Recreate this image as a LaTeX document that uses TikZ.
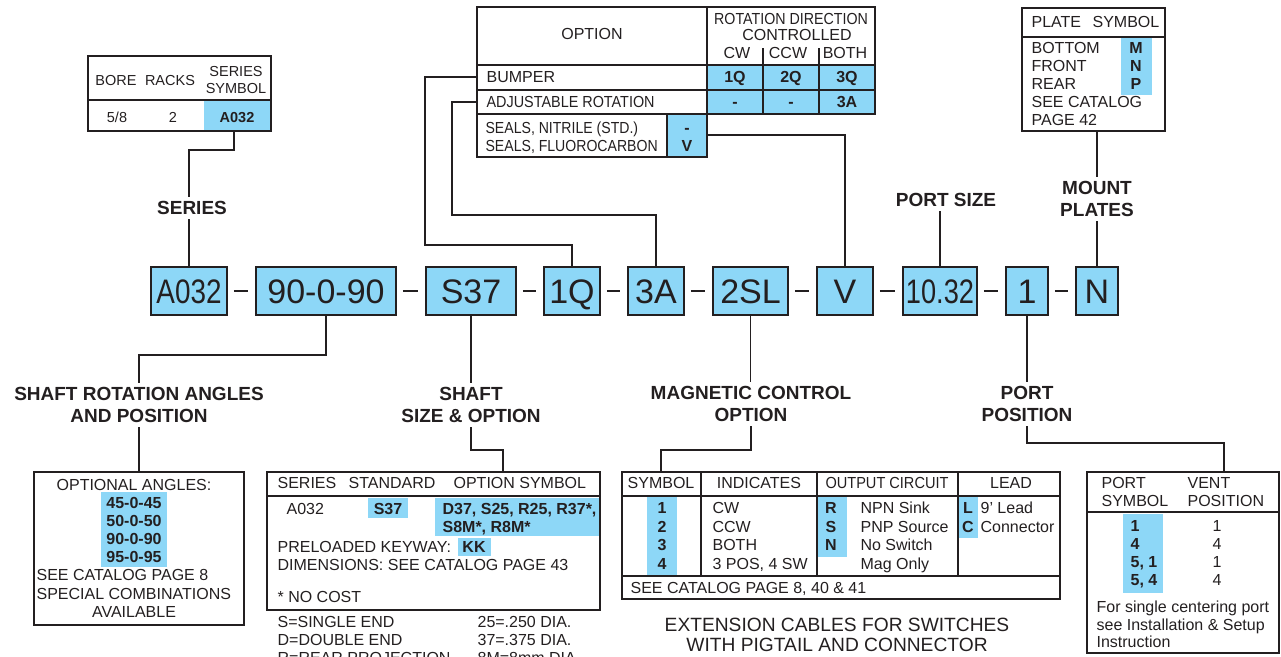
\documentclass[tikz,border=0pt]{standalone}
\usepackage{fontspec}
\usepackage{graphicx}
\setmainfont{Liberation Sans}
\usetikzlibrary{calc}
\definecolor{lc}{RGB}{35,31,32}
\definecolor{cb}{RGB}{141,215,247}
\newcommand{\fnTop}{\fontsize{14.5}{18}\selectfont}
\newcommand{\fnTab}{\fontsize{16}{18}\selectfont}
\newcommand{\fnLbl}{\fontsize{19}{22}\selectfont\bfseries}
\newcommand{\fnBig}{\fontsize{34}{34}\selectfont}
\newcommand{\fnExt}{\fontsize{19.2}{20}\selectfont}
\newcommand{\cnd}[2]{\scalebox{#1}[1]{#2}}
\begin{document}
\begin{tikzpicture}[x=1pt,y=-1pt,color=lc,line width=1.2pt,
  mb/.style={draw=lc,fill=cb,line width=1.5pt,minimum height=48pt,inner sep=0pt,font=\fnBig,text height=24.4pt,text depth=0pt},
  frm/.style={draw=lc,line width=1.3pt,inner sep=0pt,outer sep=0pt},
  lbl/.style={font=\fnLbl,align=center,inner xsep=2pt,inner ysep=4.5pt,outer sep=0pt},
  ta/.style={font=\fnTop,inner sep=0pt,text height=10.4pt,text depth=0pt},
  tab/.style={font=\fnTop\bfseries,inner sep=0pt,text height=10.4pt,text depth=0pt},
  tb/.style={font=\fnTab,inner sep=0pt,text height=11.5pt,text depth=0pt},
  tbb/.style={font=\fnTab\bfseries,inner sep=0pt,text height=11.5pt,text depth=0pt},
  sep/.style={line width=1.2pt,shorten <=6pt,shorten >=7pt}]
\useasboundingbox (0,0) rectangle (1281,656);

% ---------- main code row ----------
\node[mb,minimum width=76pt] (m1) at (189,291) {\cnd{0.82}{A032}};
\node[mb,minimum width=140pt] (m2) at (326,291) {90-0-90};
\node[mb,minimum width=90pt] (m3) at (471,291) {S37};
\node[mb,minimum width=56pt] (m4) at (572,291) {1Q};
\node[mb,minimum width=56pt] (m5) at (656,291) {3A};
\node[mb,minimum width=75pt] (m6) at (750.5,291) {2SL};
\node[mb,minimum width=56pt] (m7) at (845,291) {V};
\node[mb,minimum width=74pt] (m8) at (940,291) {\cnd{0.8}{10.32}};
\node[mb,minimum width=42pt] (m9) at (1027,291) {1};
\node[mb,minimum width=42pt] (m10) at (1097,291) {N};
\foreach \a/\b in {m1/m2,m2/m3,m3/m4,m4/m5,m5/m6,m6/m7,m7/m8,m8/m9,m9/m10}
  \draw[sep] (\a.east) -- (\b.west);

% ---------- labels ----------
\node[lbl] (Lser) at (192,208) {SERIES};
\node[lbl] (Lps) at (946,200) {PORT SIZE};
\node[lbl] (Lmount) at (1097,199) {MOUNT\\PLATES};
\node[lbl] (Lsra) at (139,405) {SHAFT ROTATION ANGLES\\AND POSITION};
\node[lbl] (Lshaft) at (471,405) {SHAFT\\SIZE \& OPTION};
\node[lbl] (Lmag) at (751,404) {MAGNETIC CONTROL\\OPTION};
\node[lbl] (Lpp) at (1027,404) {PORT\\POSITION};

% ---------- top-left table ----------
\fill[cb] (204,100) rectangle (271,131);
\node[frm,minimum width=183pt,minimum height=75pt] (tl) at (179.5,93.5) {};
\draw[line width=1.3pt] (tl.west |- 0,100) -- (tl.east |- 0,100);
\node[ta] (tl1) at (116,80) {BORE};
\node[ta] (tl2) at (170,80) {RACKS};
\node[ta] (tl3) at (236,71) {SERIES};
\node[ta] (tl4) at (236,88) {SYMBOL};
\node[ta] (tl5) at (117,117) {5/8};
\node[ta] (tl6) at (173,117) {2};
\node[tab] (tl7) at (237,117) {A032};
\coordinate (tlA) at (234,131);

% ---------- top-centre table ----------
\fill[cb] (707,65) rectangle (875,114);
\fill[cb] (667,114) rectangle (707,157);
\node[frm,minimum width=398pt,minimum height=107pt] (opt) at (676,60.5) {};
\node[frm,minimum width=230pt,minimum height=43pt] (seal) at (592,135.5) {};
\draw[line width=1.3pt] (707,7) -- (707,114);
\draw[line width=1.3pt] (477,65) -- (875,65);
\draw[line width=1.3pt] (477,90) -- (875,90);
\draw[line width=1.3pt] (763,48) -- (763,114);
\draw[line width=1.3pt] (819,48) -- (819,114);
\draw[line width=1.3pt] (667,114) -- (667,157);
\node[tb] (o1) at (592,34) {OPTION};
\node[tb] (o2) at (791,19) {\cnd{0.89}{ROTATION DIRECTION}};
\node[tb] (o3) at (797,35) {CONTROLLED};
\node[tb] (o4) at (737,53) {CW};
\node[tb] (o5) at (788,53) {CCW};
\node[tb] (o6) at (845,53) {BOTH};
\node[tb,anchor=west] (o7) at (486,77) {BUMPER};
\node[tb,anchor=west] (o8) at (486,102) {\cnd{0.9}{ADJUSTABLE ROTATION}};
\node[tbb] (o9) at (735,77) {1Q};
\node[tbb] (o10) at (791,77) {2Q};
\node[tbb] (o11) at (847,77) {3Q};
\node[tbb] (o12) at (735,102) {-};
\node[tbb] (o13) at (791,102) {-};
\node[tbb] (o14) at (847,102) {3A};
\node[tb,anchor=west] (o15) at (485,128) {\cnd{0.88}{SEALS, NITRILE (STD.)}};
\node[tb,anchor=west] (o16) at (485,146) {\cnd{0.88}{SEALS, FLUOROCARBON}};
\node[tbb] (o17) at (687,128) {-};
\node[tbb] (o18) at (687,146) {V};
\coordinate (bumL) at (477,77);
\coordinate (adjL) at (477,102);
\coordinate (sealR) at (707,135);

% ---------- plate table ----------
\fill[cb] (1121,37) rectangle (1152,95);
\node[frm,minimum width=143pt,minimum height=123pt] (plate) at (1093.5,69.5) {};
\draw[line width=1.3pt] (1022,37) -- (1165,37);
\node[tb,anchor=west] (p1) at (1031,22) {PLATE};
\node[tb,anchor=west] (p2) at (1092,22) {SYMBOL};
\node[tb,anchor=west] (p3) at (1031,48) {BOTTOM};
\node[tb,anchor=west] (p4) at (1031,66) {FRONT};
\node[tb,anchor=west] (p5) at (1031,84) {REAR};
\node[tb,anchor=west] (p6) at (1031,102) {SEE CATALOG};
\node[tb,anchor=west] (p7) at (1031,120) {PAGE 42};
\node[tbb] (p8) at (1136,48) {M};
\node[tbb] (p9) at (1136,66) {N};
\node[tbb] (p10) at (1136,84) {P};
\coordinate (plB) at (1097,131);

% ---------- angles box ----------
\fill[cb] (101,492) rectangle (167,567);
\node[frm,minimum width=210pt,minimum height=153pt] (ang) at (139,548.5) {};
\node[tb] (a1) at (134,485) {OPTIONAL ANGLES:};
\node[tbb] (a2) at (134,503) {45-0-45};
\node[tbb] (a3) at (134,521) {50-0-50};
\node[tbb] (a4) at (134,539) {90-0-90};
\node[tbb] (a5) at (134,557) {95-0-95};
\node[tb,anchor=west] (a6) at (36,575) {SEE CATALOG PAGE 8};
\node[tb,anchor=west] (a7) at (36,594) {SPECIAL COMBINATIONS};
\node[tb] (a8) at (134,612) {AVAILABLE};

% ---------- shaft table ----------
\fill[cb] (368,498) rectangle (408,518);
\fill[cb] (435,498) rectangle (600,536);
\fill[cb] (458,538) rectangle (491,556);
\node[frm,minimum width=333pt,minimum height=138pt] (shaft) at (433.5,541) {};
\draw[line width=1.3pt] (267,496) -- (600,496);
\node[tb,anchor=west] (s1) at (277,483) {SERIES};
\node[tb,anchor=west] (s2) at (348,483) {STANDARD};
\node[tb,anchor=west] (s3) at (453,483) {OPTION SYMBOL};
\node[tb,anchor=west] (s4) at (286,509) {A032};
\node[tbb] (s5) at (388,509) {S37};
\node[tbb,anchor=west] (s6) at (442,509) {D37, S25, R25, R37*,};
\node[tbb,anchor=west] (s7) at (442,527) {S8M*, R8M*};
\node[tb,anchor=west] (s8) at (277,547) {PRELOADED KEYWAY:};
\node[tbb] (s9) at (474,547) {KK};
\node[tb,anchor=west] (s10) at (277,565) {DIMENSIONS: SEE CATALOG PAGE 43};
\node[tb,anchor=west] (s11) at (277,597) {* NO COST};
\node[tb,anchor=west] (s12) at (277,622) {S=SINGLE END};
\node[tb,anchor=west] (s13) at (277,640) {D=DOUBLE END};
\node[tb,anchor=west] (s14) at (277,658) {R=REAR PROJECTION};
\node[tb,anchor=west] (s15) at (477,622) {25=.250 DIA.};
\node[tb,anchor=west] (s16) at (477,640) {37=.375 DIA.};
\node[tb,anchor=west] (s17) at (477,658) {8M=8mm DIA.};
\coordinate (shT) at (503,472);

% ---------- magnetic control table ----------
\fill[cb] (647,496) rectangle (677,576);
\fill[cb] (817,496) rectangle (847,557);
\fill[cb] (958,496) rectangle (978,538);
\node[frm,minimum width=438pt,minimum height=127pt] (mag) at (841,535.5) {};
\draw[line width=1.3pt] (622,496) -- (1060,496);
\draw[line width=1.3pt] (622,576) -- (1060,576);
\foreach \xx in {701,817,958} \draw[line width=1.3pt] (\xx,472) -- (\xx,576);
\node[tb] (g1) at (661,483) {SYMBOL};
\node[tb] (g2) at (759,483) {INDICATES};
\node[tb] (g3) at (887,483) {\cnd{0.91}{OUTPUT CIRCUIT}};
\node[tb] (g4) at (1011,483) {LEAD};
\node[tbb] (g5) at (662,508) {1};
\node[tbb] (g6) at (662,526.5) {2};
\node[tbb] (g7) at (662,545) {3};
\node[tbb] (g8) at (662,563.5) {4};
\node[tb,anchor=west] (g9) at (712,508) {CW};
\node[tb,anchor=west] (g10) at (712,526.5) {CCW};
\node[tb,anchor=west] (g11) at (712,545) {BOTH};
\node[tb,anchor=west] (g12) at (712,563.5) {3 POS, 4 SW};
\node[tbb] (g13) at (831,508) {R};
\node[tbb] (g14) at (831,526.5) {S};
\node[tbb] (g15) at (831,545) {N};
\node[tb,anchor=west] (g16) at (860,508) {NPN Sink};
\node[tb,anchor=west] (g17) at (860,526.5) {PNP Source};
\node[tb,anchor=west] (g18) at (860,545) {No Switch};
\node[tb,anchor=west] (g19) at (860,563.5) {Mag Only};
\node[tbb] (g20) at (968,508) {L};
\node[tbb] (g21) at (968,526.5) {C};
\node[tb,anchor=west] (g22) at (980,508) {9’ Lead};
\node[tb,anchor=west] (g23) at (980,526.5) {Connector};
\node[tb,anchor=west] (g24) at (630,588) {SEE CATALOG PAGE 8, 40 \& 41};
\node[font=\fnExt,inner sep=0pt,text height=13.7pt,text depth=0pt] (ext1) at (837,625) {EXTENSION CABLES FOR SWITCHES};
\node[font=\fnExt,inner sep=0pt,text height=13.7pt,text depth=0pt] (ext2) at (837,645) {WITH PIGTAIL AND CONNECTOR};
\coordinate (magT) at (661,472);

% ---------- port table ----------
\fill[cb] (1123,514) rectangle (1163,593);
\node[frm,minimum width=192pt,minimum height=181pt] (port) at (1183,562.5) {};
\draw[line width=1.3pt] (1087,512) -- (1279,512);
\node[tb,anchor=west] (q1) at (1101,483) {PORT};
\node[tb,anchor=west] (q2) at (1101,501) {SYMBOL};
\node[tb,anchor=west] (q3) at (1187,483) {VENT};
\node[tb,anchor=west] (q4) at (1187,501) {POSITION};
\node[tbb,anchor=west] (q5) at (1130,526) {1};
\node[tbb,anchor=west] (q6) at (1130,544) {4};
\node[tbb,anchor=west] (q7) at (1130,562) {5, 1};
\node[tbb,anchor=west] (q8) at (1130,580) {5, 4};
\node[tb] (q9) at (1217,526) {1};
\node[tb] (q10) at (1217,544) {4};
\node[tb] (q11) at (1217,562) {1};
\node[tb] (q12) at (1217,580) {4};
\node[tb,anchor=west] (q13) at (1096,607) {For single centering port};
\node[tb,anchor=west] (q14) at (1096,625) {see Installation \& Setup};
\node[tb,anchor=west] (q15) at (1096,642) {Instruction};
\coordinate (ppT) at (1224,472);

% ---------- connectors ----------
\draw (m1.north) -- (m1.north |- Lser.south);
\draw (m1.north |- Lser.north) -- (m1.north |- 0,150) -| (tlA);
\draw (bumL) -- (425,77) |- (m4.north |- 0,245) -- (m4.north);
\draw (adjL) -- (452,102) |- (m5.north |- 0,215) -- (m5.north);
\draw (sealR) -| (m7.north);
\draw (m8.north) -- (m8.north |- Lps.south);
\draw (m10.north) -- (m10.north |- Lmount.south);
\draw (plB) -- (plB |- Lmount.north);
\draw (m2.south) -- (m2.south |- 0,355) -| (Lsra.north);
\draw (Lsra.south) -- (Lsra.south |- ang.north);
\draw (m3.south) -- (m3.south |- Lshaft.north);
\draw (Lshaft.south) -- (Lshaft.south |- 0,450) -| (shT);
\draw (m6.south) -- (m6.south |- Lmag.north);
\draw (Lmag.south) -- (Lmag.south |- 0,450) -| (magT);
\draw (m9.south) -- (m9.south |- Lpp.north);
\draw (Lpp.south) -- (Lpp.south |- 0,443) -| (ppT);
\end{tikzpicture}
\end{document}
